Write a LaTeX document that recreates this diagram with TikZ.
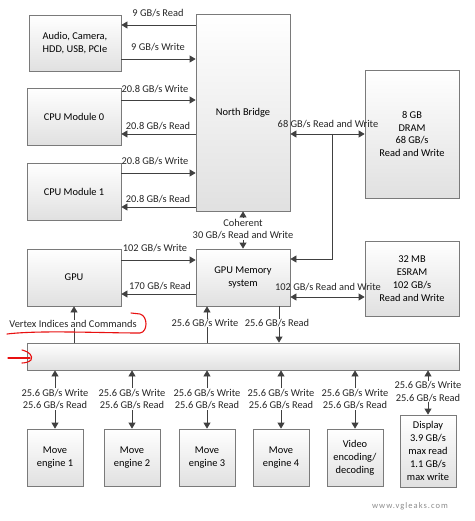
\documentclass[tikz,border=0pt]{standalone}
\usepackage{fontspec}
\setmainfont{Carlito}
\usetikzlibrary{arrows.meta,shadows}
\definecolor{boxline}{HTML}{7A7A7A}
\definecolor{arrowc}{HTML}{404040}
\definecolor{redmark}{HTML}{E81010}
\tikzset{
  box/.style={draw=boxline, line width=0.8pt, top color=white, bottom color=black!12,
    drop shadow={shadow xshift=1.2pt, shadow yshift=-1.2pt, opacity=0.25},
    align=center, inner sep=1pt, font=\fontsize{10.4}{12.8}\selectfont},
  arr/.style={draw=arrowc, line width=0.8pt, -{Triangle[length=6pt,width=7pt]}},
  darr/.style={draw=arrowc, line width=0.8pt, {Triangle[length=6pt,width=7pt]}-{Triangle[length=6pt,width=7pt]}},
  lbl/.style={font=\fontsize{10.4}{12.5}\selectfont, inner sep=0.5pt, align=center, text=black!85},
  wlbl/.style={lbl, fill=white},
  redpen/.style={draw=redmark, line width=1.1pt, line cap=round, line join=round}
}
\begin{document}
\begin{tikzpicture}[x=1pt,y=-1pt]
\useasboundingbox (0,0) rectangle (474,521);
% boxes
\node[box, minimum width=92pt, minimum height=56pt] (audio) at (75,43) {Audio, Camera,\\HDD, USB, PCIe};
\node[box, minimum width=94pt, minimum height=197pt] (nb) at (243,112.5) {North Bridge};
\node[box, minimum width=94pt, minimum height=57pt] (cpu0) at (74,116.5) {CPU Module 0};
\node[box, minimum width=94pt, minimum height=57pt] (cpu1) at (74,191.5) {CPU Module 1};
\node[box, minimum width=94pt, minimum height=128pt] (dram) at (412,134) {8 GB\\DRAM\\68 GB/s\\Read and Write};
\node[box, minimum width=94pt, minimum height=57pt] (gpu) at (74,277.5) {GPU};
\node[box, minimum width=94pt, minimum height=57pt] (gmem) at (243,277.5) {GPU Memory\\system};
\node[box, minimum width=94pt, minimum height=75pt] (esram) at (412,278.5) {32 MB\\ESRAM\\102 GB/s\\Read and Write};
\node[box, minimum width=432pt, minimum height=27pt] (bus) at (243,356.5) {};
\node[box, minimum width=56pt, minimum height=57pt] (me1) at (55,457.5) {Move\\engine 1};
\node[box, minimum width=56pt, minimum height=57pt] (me2) at (132,457.5) {Move\\engine 2};
\node[box, minimum width=56pt, minimum height=57pt] (me3) at (207,457.5) {Move\\engine 3};
\node[box, minimum width=56pt, minimum height=57pt] (me4) at (281,457.5) {Move\\engine 4};
\node[box, minimum width=56pt, minimum height=57pt] (vid) at (355,457.5) {Video\\encoding/\\decoding};
\node[box, minimum width=56pt, minimum height=72pt] (disp) at (428,451) {Display\\3.9 GB/s\\max read\\1.1 GB/s\\max write};

% north bridge links
\draw[arr] (nb.west |- 0,25) -- (audio.east |- 0,25);
\node[lbl] (l9r) at (158,13) {9 GB/s Read};
\draw[arr] (audio.east |- 0,59) -- (nb.west |- 0,59);
\node[lbl] (l9w) at (158,47) {9 GB/s Write};
\draw[arr] (cpu0.east |- 0,100) -- (nb.west |- 0,100);
\node[lbl] (lc0w) at (155,89) {20.8 GB/s Write};
\draw[arr] (nb.west |- 0,134) -- (cpu0.east |- 0,134);
\node[lbl] (lc0r) at (158,126) {20.8 GB/s Read};
\draw[arr] (cpu1.east |- 0,173) -- (nb.west |- 0,173);
\node[lbl] (lc1w) at (155,161) {20.8 GB/s Write};
\draw[arr] (nb.west |- 0,207) -- (cpu1.east |- 0,207);
\node[lbl] (lc1r) at (158,199) {20.8 GB/s Read};

% DRAM
\draw[darr] (nb.east |- 0,134) -- (dram.west |- 0,134);
\node[lbl] (ldram) at (328,124) {68 GB/s Read and Write};
\coordinate (tap) at (332,134);
\draw[arr] (tap) -- (332,259) -- (gmem.east |- 0,259);

% coherent
\draw[darr] (gmem.north) -- (nb.south);
\node[wlbl] (lcoh) at (243,229) {Coherent\\30 GB/s Read and Write};

% GPU <-> GPU memory
\draw[arr] (gpu.east |- 0,260) -- (gmem.west |- 0,260);
\node[lbl] (lgw) at (155,248) {102 GB/s Write};
\draw[arr] (gmem.west |- 0,294) -- (gpu.east |- 0,294);
\node[lbl] (lgr) at (160,286) {170 GB/s Read};

% ESRAM
\draw[darr] (gmem.east |- 0,297) -- (esram.west |- 0,297);
\node[lbl] (lesr) at (328,287) {102 GB/s Read and Write};

% bus to GPU and GPU memory
\draw[arr] (bus.north -| 74,0) -- (gpu.south -| 74,0);
\node[wlbl] (lvtx) at (73,324) {Vertex Indices and Commands};
\draw[arr] (bus.north -| 207,0) -- (gmem.south -| 207,0);
\node[wlbl] (lbw) at (205,323) {25.6 GB/s Write};
\draw[arr] (gmem.south -| 279,0) -- (bus.north -| 279,0);
\node[wlbl] (lbr) at (277,323) {25.6 GB/s Read};

% bus to engines
\foreach \m in {me1,me2,me3,me4,vid,disp}{
  \draw[darr] (bus.south -| \m.north) -- (\m.north);
}
\foreach \m/\x in {me1/55,me2/132,me3/207,me4/281,vid/355}{
  \node[wlbl] (t\m) at (\x,399) {25.6 GB/s Write\\25.6 GB/s Read};
}
\node[wlbl] (tdisp) at (428,391.5) {25.6 GB/s Write\\25.6 GB/s Read};

% watermark
\node[font=\fontsize{8.5}{9}\selectfont\addfontfeature{LetterSpace=12}, text=black!45] (wm) at (410,506) {www.vgleaks.com};

% red hand marks
\draw[redpen] (7,334) .. controls (40,330) and (100,333) .. (140,333) .. controls (148,332) and (148,316) .. (140,314) -- (131,313);
\draw[redpen] (8,358) -- (30,358);
\draw[redpen] (22,350) .. controls (30,352) and (33,356) .. (31,360) .. controls (29,362) and (25,363) .. (22,363);
\end{tikzpicture}
\end{document}
